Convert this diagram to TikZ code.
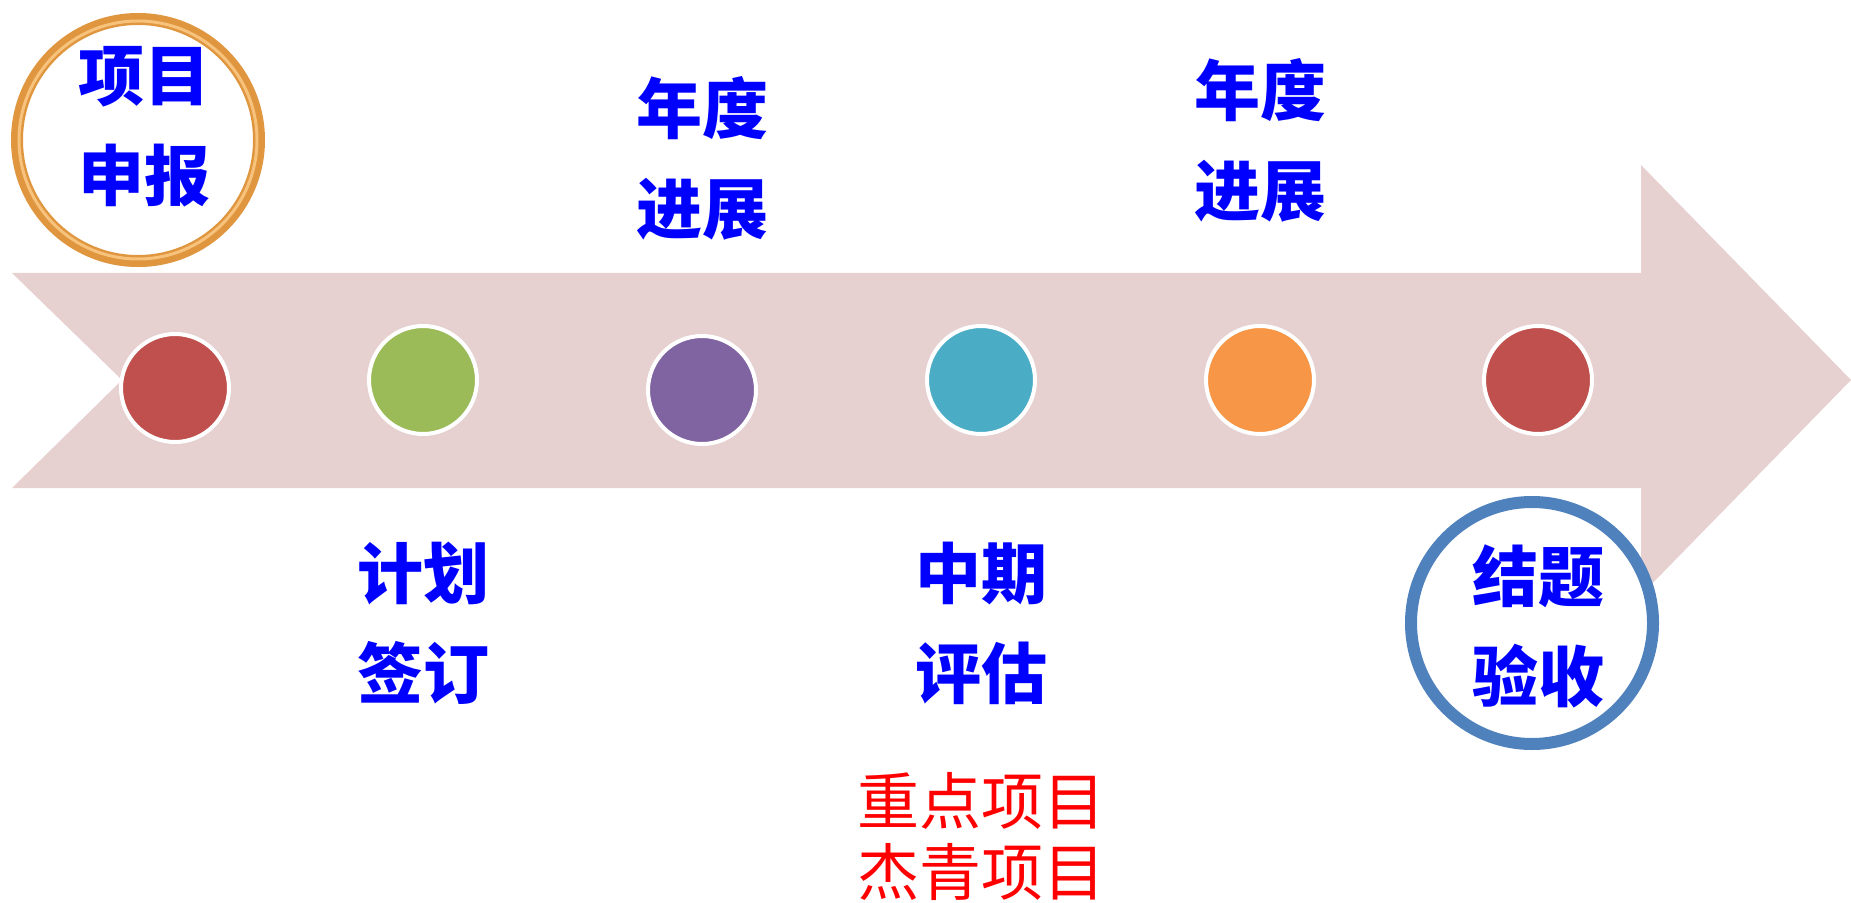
\documentclass[tikz,border=0pt]{standalone}
\usepackage{fontspec}
\newfontfamily\cjk{Noto Sans CJK SC}
\usetikzlibrary{shadows}

\definecolor{bandPink}{HTML}{E7D0D0}
\definecolor{dotRed}{HTML}{C0504D}
\definecolor{dotGreen}{HTML}{9BBB59}
\definecolor{dotPurple}{HTML}{8064A2}
\definecolor{dotTeal}{HTML}{4BACC6}
\definecolor{dotOrange}{HTML}{F79646}
\definecolor{ringOrange}{HTML}{E0963F}
\definecolor{ringLight}{HTML}{F6C27C}
\definecolor{ringBlue}{HTML}{4F81BD}
\definecolor{stageBlue}{HTML}{0000FF}
\definecolor{noteRed}{HTML}{FF0000}

\begin{document}
\begin{tikzpicture}[
  x=0.5pt, y=-0.5pt,
  dot/.style={circle, draw=white, line width=2pt, minimum size=54pt, inner sep=0pt},
  ring/.style={circle, fill=white, line width=6pt, minimum size=121pt, inner sep=0pt},
  stage/.style={text=stageBlue, font=\cjk\bfseries\fontsize{33}{50}\selectfont, align=center, inner sep=0pt},
  note/.style={text=noteRed, font=\cjk\fontsize{31}{35.5}\selectfont, align=center, inner sep=0pt}
]
\useasboundingbox (0,0) rectangle (1851,903);

% Band arrow
\fill[bandPink] (12,273) -- (1641,273) -- (1641,165) -- (1851,380)
  -- (1641,595) -- (1641,488) -- (12,488) -- (122,380) -- cycle;

% Rings
\node[ring, draw=ringOrange, drop shadow={opacity=0.25, shadow xshift=0pt, shadow yshift=-3pt}] (start) at (138,140) {};
\draw[ringLight, line width=1.5pt] (start.center) circle[radius=119];
\node[ring, draw=ringBlue] (finish) at (1532,623) {};

% Dots
\node[dot, fill=dotRed]    (d1) at (175,388) {};
\node[dot, fill=dotGreen]  (d2) at (423,380) {};
\node[dot, fill=dotPurple] (d3) at (702,390) {};
\node[dot, fill=dotTeal]   (d4) at (981,380) {};
\node[dot, fill=dotOrange] (d5) at (1260,380) {};
\node[dot, fill=dotRed]    (d6) at (1538,380) {};

% Stage labels
\node[stage] (s1) at (144,127) {项目\\申报};
\node[stage] (s2) at (702,158) {年度\\进展};
\node[stage] (s3) at (423,623) {计划\\签订};
\node[stage] (s4) at (981,623) {中期\\评估};
\node[stage] (s5) at (1260,140) {年度\\进展};
\node[stage] (s6) at (1538,626) {结题\\验收};

% Note under the midterm review
\node[note] (n4) at (981,836) {重点项目\\杰青项目};

\end{tikzpicture}
\end{document}
